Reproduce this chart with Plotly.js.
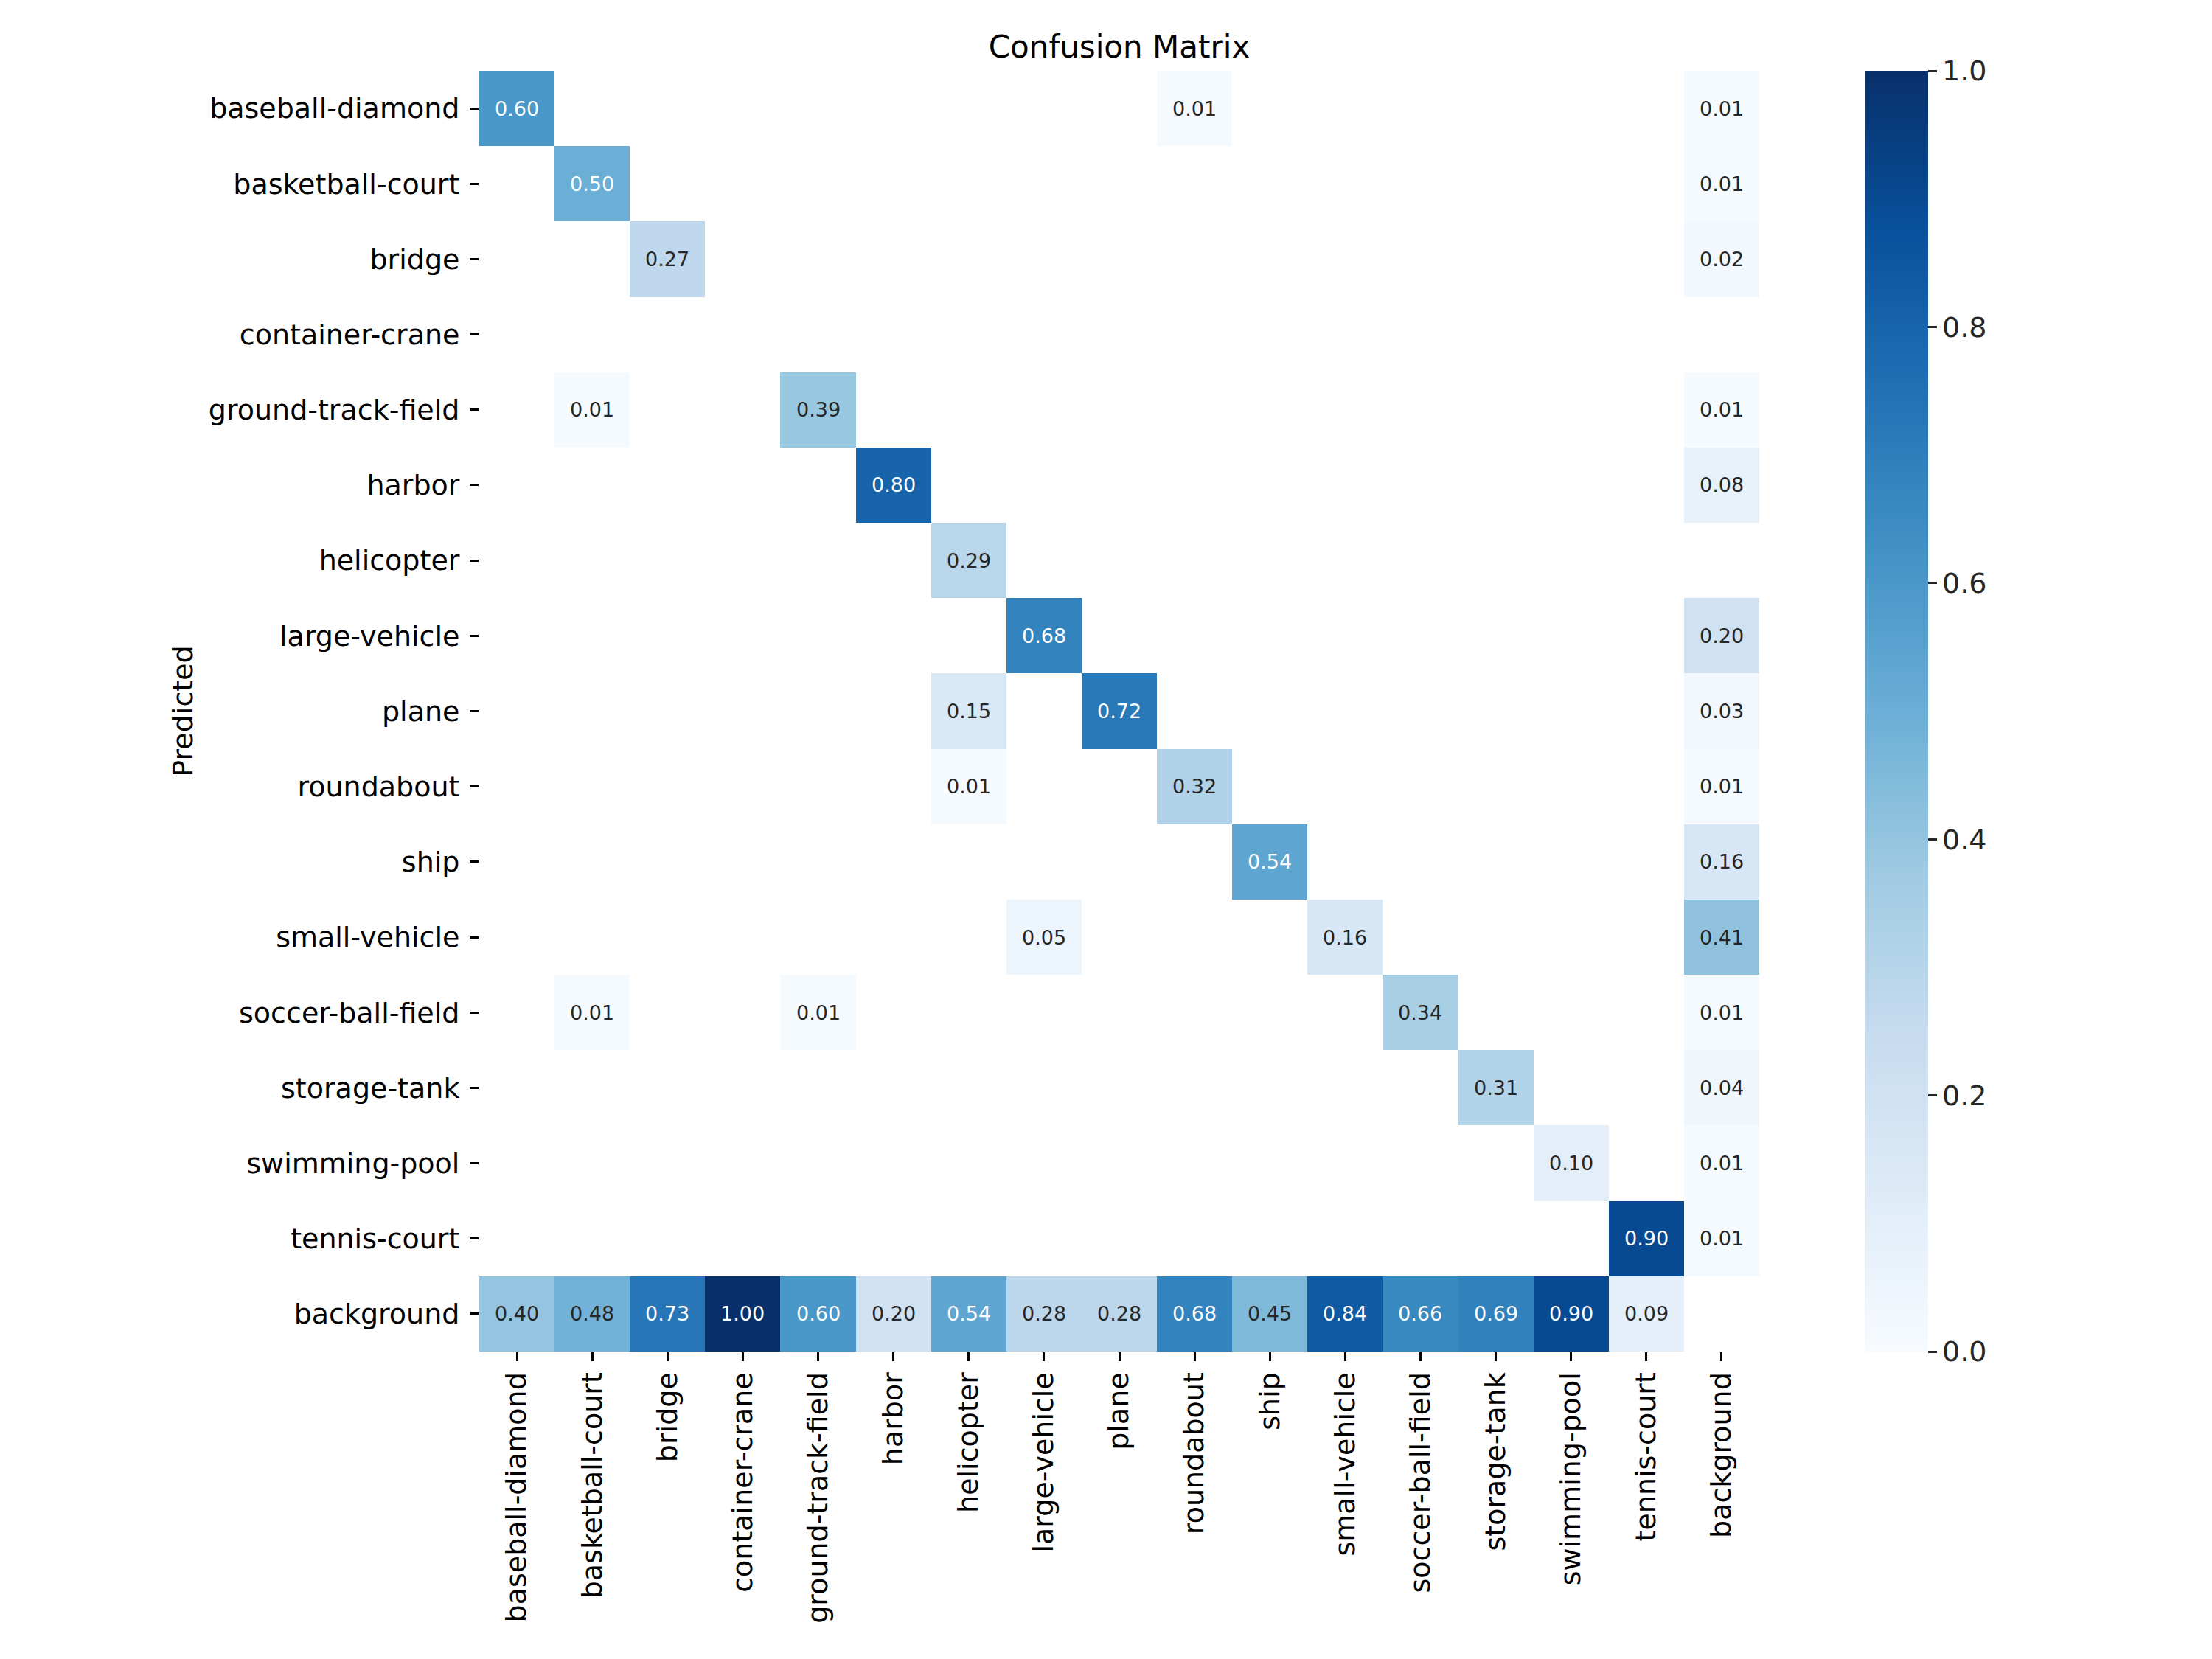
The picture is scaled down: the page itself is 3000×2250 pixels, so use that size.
<!DOCTYPE html>
<html>
<head>
<meta charset="utf-8">
<script src="https://cdn.plot.ly/plotly-3.0.1.min.js"></script>
<style>html,body{margin:0;padding:0;background:#fff;}#chart{width:3000px;height:2250px;}</style>
</head>
<body>
<div id="chart"></div>
<script>
// ---- data ----
const classes = ["baseball-diamond","basketball-court","bridge","container-crane","ground-track-field","harbor","helicopter","large-vehicle","plane","roundabout","ship","small-vehicle","soccer-ball-field","storage-tank","swimming-pool","tennis-court","background"];
// rows = Predicted, columns = True (null = blank cell)
const rowBaseballDiamond  = [0.60,null,null,null,null,null,null,null,null,0.01,null,null,null,null,null,null,0.01];
const rowBasketballCourt  = [null,0.50,null,null,null,null,null,null,null,null,null,null,null,null,null,null,0.01];
const rowBridge           = [null,null,0.27,null,null,null,null,null,null,null,null,null,null,null,null,null,0.02];
const rowContainerCrane   = [null,null,null,null,null,null,null,null,null,null,null,null,null,null,null,null,null];
const rowGroundTrackField = [null,0.01,null,null,0.39,null,null,null,null,null,null,null,null,null,null,null,0.01];
const rowHarbor           = [null,null,null,null,null,0.80,null,null,null,null,null,null,null,null,null,null,0.08];
const rowHelicopter       = [null,null,null,null,null,null,0.29,null,null,null,null,null,null,null,null,null,null];
const rowLargeVehicle     = [null,null,null,null,null,null,null,0.68,null,null,null,null,null,null,null,null,0.20];
const rowPlane            = [null,null,null,null,null,null,0.15,null,0.72,null,null,null,null,null,null,null,0.03];
const rowRoundabout       = [null,null,null,null,null,null,0.01,null,null,0.32,null,null,null,null,null,null,0.01];
const rowShip             = [null,null,null,null,null,null,null,null,null,null,0.54,null,null,null,null,null,0.16];
const rowSmallVehicle     = [null,null,null,null,null,null,null,0.05,null,null,null,0.16,null,null,null,null,0.41];
const rowSoccerBallField  = [null,0.01,null,null,0.01,null,null,null,null,null,null,null,0.34,null,null,null,0.01];
const rowStorageTank      = [null,null,null,null,null,null,null,null,null,null,null,null,null,0.31,null,null,0.04];
const rowSwimmingPool     = [null,null,null,null,null,null,null,null,null,null,null,null,null,null,0.10,null,0.01];
const rowTennisCourt      = [null,null,null,null,null,null,null,null,null,null,null,null,null,null,null,0.90,0.01];
const rowBackground       = [0.40,0.48,0.73,1.00,0.60,0.20,0.54,0.28,0.28,0.68,0.45,0.84,0.66,0.69,0.90,0.09,null];
const matrix = [rowBaseballDiamond,rowBasketballCourt,rowBridge,rowContainerCrane,rowGroundTrackField,rowHarbor,rowHelicopter,rowLargeVehicle,rowPlane,rowRoundabout,rowShip,rowSmallVehicle,rowSoccerBallField,rowStorageTank,rowSwimmingPool,rowTennisCourt,rowBackground];
const cbTicks = [0.0,0.2,0.4,0.6,0.8,1.0];

// matplotlib "Blues"
const bluesHex = ["#f7fbff","#deebf7","#c6dbef","#9ecae1","#6baed6","#4292c6","#2171b5","#08519c","#08306b"];
const blues = bluesHex.map((c,i)=>[i/(bluesHex.length-1), c]);

const FONT = "DejaVu Sans, Liberation Sans, sans-serif";

const annotations = [];
matrix.forEach((row,i)=>row.forEach((v,j)=>{
  if (v === null) return;
  annotations.push({
    x: classes[j], y: classes[i], xref:'x', yref:'y',
    text: v.toFixed(2), showarrow:false,
    font:{family:FONT, size:27, color: v > 0.49 ? '#ffffff' : '#262626'}
  });
}));

const trace = {
  type:'heatmap',
  x: classes, y: classes, z: matrix,
  zmin:0, zmax:1,
  colorscale: blues,
  hoverongaps:false,
  xgap:0, ygap:0,
  colorbar:{
    xref:'container', x: 2529/3000, xanchor:'left',
    y:0.5, yanchor:'middle', len:1, lenmode:'fraction',
    thickness:86, thicknessmode:'pixels',
    outlinewidth:0, xpad:0, ypad:0,
    tickmode:'array', tickvals: cbTicks, ticktext: cbTicks.map(t=>t.toFixed(1)),
    ticks:'outside', ticklen:12, tickwidth:3, tickcolor:'#262626',
    tickfont:{family:FONT, size:38, color:'#262626'}
  }
};

const layout = {
  width:3000, height:2250,
  margin:{l:650, r:614, t:96, b:417, pad:0},
  paper_bgcolor:'#ffffff', plot_bgcolor:'#ffffff',
  font:{family:FONT, color:'#000000'},
  title:{text:'Confusion Matrix', font:{family:FONT, size:42, color:'#000000'},
         x:0.5, xref:'paper', y:1-63/2250, yref:'container', yanchor:'middle', xanchor:'center'},
  xaxis:{
    type:'category', categoryorder:'array', categoryarray: classes,
    tickangle:-90, ticks:'outside', ticklen:12, tickwidth:3, tickcolor:'#000000',
    tickfont:{family:FONT, size:38, color:'#000000'},
    showgrid:false, zeroline:false, showline:false, automargin:false
  },
  yaxis:{
    type:'category', categoryorder:'array', categoryarray: classes,
    autorange:'reversed', ticks:'outside', ticklen:12, tickwidth:3, tickcolor:'#000000',
    ticklabelstandoff:6,
    tickfont:{family:FONT, size:38, color:'#000000'},
    showgrid:false, zeroline:false, showline:false, automargin:false,
    title:{text:'Predicted', font:{family:FONT, size:38, color:'#000000'}, standoff:9}
  },
  annotations: annotations
};

Plotly.newPlot('chart',[trace],layout,{displayModeBar:false, staticPlot:true});
</script>
</body>
</html>
